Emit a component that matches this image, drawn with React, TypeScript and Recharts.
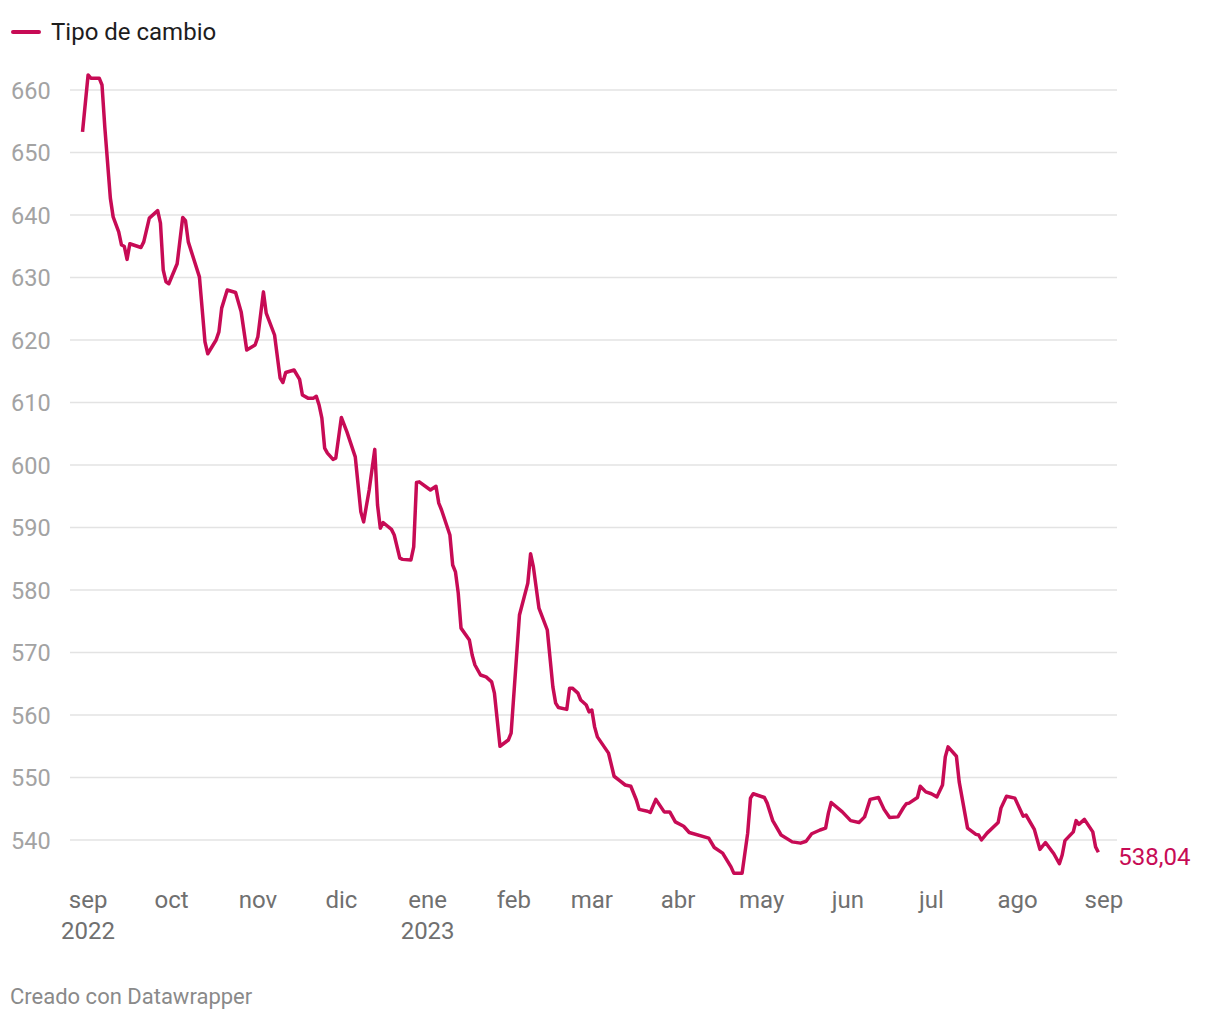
import React from 'react';
import { LineChart, Line, XAxis, YAxis, ReferenceLine } from 'recharts';

// Tipo de cambio, one entry per vertex
const dates = [
  '2022-08-30', '2022-09-01', '2022-09-02', '2022-09-05', '2022-09-06', '2022-09-07', '2022-09-09', '2022-09-10',
  '2022-09-12', '2022-09-13', '2022-09-14', '2022-09-15', '2022-09-16', '2022-09-20', '2022-09-21', '2022-09-23',
  '2022-09-26', '2022-09-27', '2022-09-28', '2022-09-29', '2022-09-30', '2022-10-03', '2022-10-05', '2022-10-06',
  '2022-10-07', '2022-10-11', '2022-10-13', '2022-10-14', '2022-10-17', '2022-10-18', '2022-10-19', '2022-10-21',
  '2022-10-24', '2022-10-26', '2022-10-28', '2022-10-31', '2022-11-01', '2022-11-03', '2022-11-04', '2022-11-07',
  '2022-11-09', '2022-11-10', '2022-11-11', '2022-11-14', '2022-11-16', '2022-11-17', '2022-11-19', '2022-11-21',
  '2022-11-22', '2022-11-23', '2022-11-24', '2022-11-25', '2022-11-26', '2022-11-28', '2022-11-29', '2022-12-01',
  '2022-12-03', '2022-12-06', '2022-12-08', '2022-12-09', '2022-12-11', '2022-12-13', '2022-12-14', '2022-12-15',
  '2022-12-16', '2022-12-19', '2022-12-20', '2022-12-22', '2022-12-23', '2022-12-26', '2022-12-27', '2022-12-28',
  '2022-12-29', '2023-01-02', '2023-01-04', '2023-01-05', '2023-01-06', '2023-01-09', '2023-01-10', '2023-01-11',
  '2023-01-12', '2023-01-13', '2023-01-16', '2023-01-17', '2023-01-18', '2023-01-20', '2023-01-22', '2023-01-24',
  '2023-01-25', '2023-01-27', '2023-01-30', '2023-01-31', '2023-02-03', '2023-02-06', '2023-02-07', '2023-02-08',
  '2023-02-10', '2023-02-13', '2023-02-15', '2023-02-16', '2023-02-17', '2023-02-20', '2023-02-21', '2023-02-22',
  '2023-02-24', '2023-02-25', '2023-02-27', '2023-02-28', '2023-03-01', '2023-03-02', '2023-03-03', '2023-03-07',
  '2023-03-09', '2023-03-11', '2023-03-13', '2023-03-15', '2023-03-17', '2023-03-18', '2023-03-21', '2023-03-22',
  '2023-03-24', '2023-03-27', '2023-03-29', '2023-03-31', '2023-04-03', '2023-04-05', '2023-04-12', '2023-04-14',
  '2023-04-17', '2023-04-20', '2023-04-21', '2023-04-24', '2023-04-26', '2023-04-27', '2023-04-28', '2023-05-02',
  '2023-05-03', '2023-05-05', '2023-05-08', '2023-05-12', '2023-05-15', '2023-05-17', '2023-05-19', '2023-05-22',
  '2023-05-24', '2023-05-25', '2023-05-26', '2023-05-30', '2023-06-02', '2023-06-05', '2023-06-07', '2023-06-09',
  '2023-06-12', '2023-06-14', '2023-06-16', '2023-06-19', '2023-06-21', '2023-06-22', '2023-06-23', '2023-06-26',
  '2023-06-27', '2023-06-29', '2023-07-01', '2023-07-03', '2023-07-05', '2023-07-06', '2023-07-07', '2023-07-10',
  '2023-07-11', '2023-07-14', '2023-07-17', '2023-07-18', '2023-07-19', '2023-07-21', '2023-07-25', '2023-07-26',
  '2023-07-28', '2023-07-31', '2023-08-03', '2023-08-04', '2023-08-07', '2023-08-09', '2023-08-11', '2023-08-14',
  '2023-08-16', '2023-08-17', '2023-08-18', '2023-08-21', '2023-08-22', '2023-08-23', '2023-08-25', '2023-08-28',
  '2023-08-29', '2023-08-30',
];

const values = [
  653.3, 662.4, 661.9, 661.9, 660.8, 654.1, 642.7, 639.7,
  637.3, 635.2, 635.0, 632.9, 635.4, 634.8, 635.7, 639.5,
  640.7, 638.7, 631.2, 629.3, 629.0, 632.2, 639.6, 639.1,
  635.7, 630.1, 619.7, 617.8, 620.0, 621.3, 625.1, 628.0,
  627.6, 624.5, 618.4, 619.2, 620.5, 627.7, 624.3, 620.8,
  613.9, 613.2, 614.8, 615.2, 613.7, 611.2, 610.7, 610.7,
  611.0, 609.6, 607.5, 602.7, 601.9, 600.9, 601.1, 607.6,
  605.3, 601.3, 592.5, 590.9, 596.0, 602.5, 593.6, 589.9,
  590.8, 589.7, 588.8, 585.1, 584.9, 584.8, 586.9, 597.2,
  597.3, 596.0, 596.6, 593.9, 592.8, 588.8, 584.0, 582.9,
  579.5, 573.9, 572.0, 569.6, 568.0, 566.4, 566.1, 565.3,
  563.5, 555.0, 556.0, 557.1, 576.0, 581.1, 585.8, 583.7,
  577.1, 573.6, 564.5, 561.9, 561.2, 560.9, 564.3, 564.3,
  563.5, 562.4, 561.6, 560.5, 560.8, 558.1, 556.5, 553.9,
  550.2, 549.5, 548.8, 548.6, 546.4, 544.9, 544.6, 544.4,
  546.5, 544.5, 544.5, 542.9, 542.2, 541.2, 540.3, 538.8,
  537.9, 535.7, 534.7, 534.7, 541.1, 546.7, 547.4, 546.8,
  545.9, 543.1, 540.8, 539.7, 539.5, 539.8, 541.0, 541.6,
  541.9, 544.3, 546.0, 544.5, 543.1, 542.8, 543.7, 546.5,
  546.8, 544.9, 543.6, 543.7, 545.2, 545.8, 545.9, 546.8,
  548.6, 547.7, 547.4, 546.9, 548.8, 553.3, 554.9, 553.4,
  549.3, 541.9, 540.9, 540.8, 540.0, 541.1, 542.8, 545.1,
  547.0, 546.7, 543.8, 544.0, 541.7, 538.5, 539.6, 537.8,
  536.2, 537.6, 539.9, 541.3, 543.1, 542.5, 543.3, 541.3,
  538.9, 538.04,
];

const monthTicks = [
  '2022-09-01', '2022-10-01', '2022-11-01', '2022-12-01', '2023-01-01', '2023-02-01', '2023-03-01',
  '2023-04-01', '2023-05-01', '2023-06-01', '2023-07-01', '2023-08-01', '2023-09-01',
];
const monthLabels = ['sep', 'oct', 'nov', 'dic', 'ene', 'feb', 'mar', 'abr', 'may', 'jun', 'jul', 'ago', 'sep'];
const yearLabels = ['2022', '', '', '', '2023', '', '', '', '', '', '', '', ''];
const yTicks = [540, 550, 560, 570, 580, 590, 600, 610, 620, 630, 640, 650, 660];

const COLOR = '#c70b55';
const FONT = 'Roboto, "Noto Sans", sans-serif';
const DAY = 86400000;

const toTime = (d: string) => Date.parse(d + 'T00:00:00Z');
const data = dates.map((d, i) => ({ t: toTime(d), v: values[i] }));
const tickTimes = monthTicks.map(toTime);
const start = toTime('2022-09-01');

const MonthTick = (props: any) => {
  const { x, y, payload } = props;
  const i = tickTimes.indexOf(payload.value);
  return (
    <g>
      <text x={x} y={y + 30.5} textAnchor="middle" fill="#707070" fontSize={24} fontFamily={FONT}>
        {monthLabels[i]}
      </text>
      {yearLabels[i] && (
        <text x={x} y={y + 61} textAnchor="middle" fill="#707070" fontSize={24} fontFamily={FONT}>
          {yearLabels[i]}
        </text>
      )}
    </g>
  );
};

const ValueTick = (props: any) => {
  const { y, payload } = props;
  return (
    <text x={11} y={y + 8.5} textAnchor="start" fill="#a3a3a3" fontSize={23.5} fontFamily={FONT}>
      {payload.value}
    </text>
  );
};

const EndLabel = (props: any) => {
  const { x, y, index } = props;
  if (index !== data.length - 1) return null;
  return (
    <text x={x + 20} y={y + 13} fill={COLOR} fontSize={24} fontFamily={FONT}>
      {values[values.length - 1].toFixed(2).replace('.', ',')}
    </text>
  );
};

export default function App() {
  return (
    <div style={{ position: 'absolute', left: 0, top: 0, width: 1220, height: 1020, background: '#fff', fontFamily: FONT }}>
      <div style={{ position: 'absolute', left: 11, top: 17, display: 'flex', alignItems: 'center' }}>
        <div style={{ width: 30, height: 4, borderRadius: 2, background: COLOR, marginRight: 10 }} />
        <span style={{ fontSize: 24, color: '#1d1d1d', lineHeight: '30px' }}>Tipo de cambio</span>
      </div>

      <LineChart width={1220} height={1020} data={data} margin={{ top: 65, right: 103, bottom: 0, left: 0 }}>
        <XAxis
          dataKey="t"
          type="number"
          scale="time"
          domain={[start - 6.5 * DAY, start + 369.7 * DAY]}
          ticks={tickTimes}
          tick={<MonthTick />}
          axisLine={false}
          tickLine={false}
          tickSize={0}
          tickMargin={0}
          height={142.5}
          interval={0}
        />
        <YAxis
          type="number"
          domain={[534, 664]}
          ticks={yTicks}
          tick={<ValueTick />}
          axisLine={false}
          tickLine={false}
          width={70}
          interval={0}
        />
        {yTicks.map(v => (
          <ReferenceLine key={v} y={v} stroke="#e3e3e3" strokeWidth={1.5} />
        ))}
        <Line
          type="linear"
          dataKey="v"
          stroke={COLOR}
          strokeWidth={3.5}
          strokeLinejoin="round"
          dot={false}
          isAnimationActive={false}
          label={<EndLabel />}
        />
      </LineChart>

      <div style={{ position: 'absolute', left: 10, top: 984, fontSize: 22, color: '#8a8a8a', lineHeight: '26px' }}>
        Creado con Datawrapper
      </div>
    </div>
  );
}
